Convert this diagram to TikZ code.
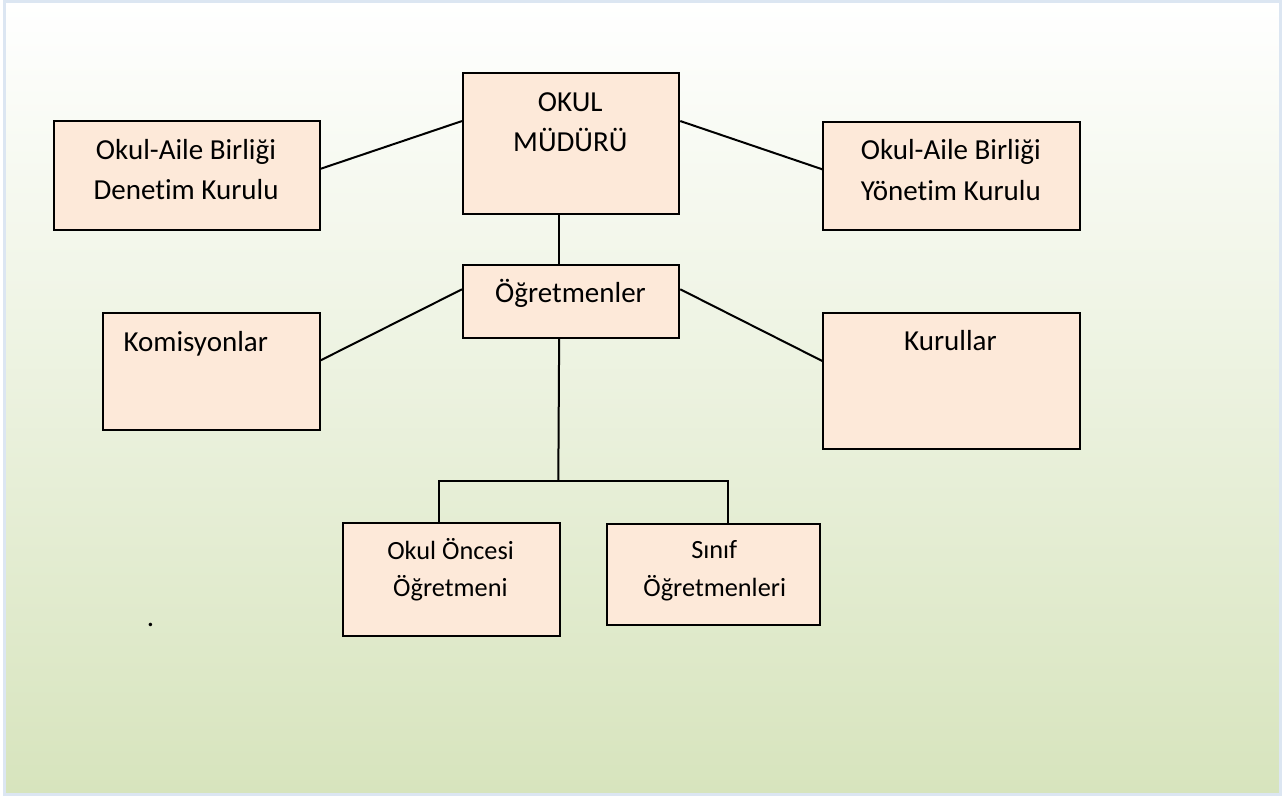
\documentclass[tikz,border=0pt]{standalone}
\usepackage{fontspec}
\setmainfont[Ligatures={NoCommon}]{Carlito}
\usetikzlibrary{calc}

\newcommand{\orgfont}{\fontsize{29}{40}\selectfont}
\newcommand{\orgsmallfont}{\fontsize{26.3}{37}\selectfont}

\tikzset{
	orgbox/.style={draw=black, line width=2pt, fill=boxfill, inner sep=0pt, anchor=north west},
	orgtext/.style={font=\orgfont, inner sep=0pt, anchor=base},
	orgsmall/.style={font=\orgsmallfont, inner sep=0pt, anchor=base},
	link/.style={draw=black, line width=2pt}
}

\begin{document}
\begin{tikzpicture}[x=1pt, y=-1pt]
			% Define colors
			\definecolor{boxfill}{RGB}{253,233,217}
			\definecolor{bggreen}{RGB}{215,228,189}
			\definecolor{framecol}{RGB}{220,230,242}
			
			% Background
			\useasboundingbox (0,0) rectangle (1284,796);
			\fill[white] (0,0) rectangle (1284,796);
			\shade[top color=white, bottom color=bggreen] (4.5,1.5) rectangle (1280.5,794.5);
			\draw[framecol, line width=3pt] (4.5,1.5) rectangle (1280.5,794.5);
			
			% Draw boxes
			\node[orgbox, minimum width=216.3pt, minimum height=140.7pt] (mudur) at (462,72) {};
			\node[orgbox, minimum width=216.3pt, minimum height=72.4pt] (ogretmen) at (462,264.3) {};
			\node[orgbox, minimum width=265.4pt, minimum height=108.7pt] (denetim) at (53.3,120) {};
			\node[orgbox, minimum width=257pt, minimum height=108pt] (yonetim) at (822.3,120.7) {};
			\node[orgbox, minimum width=217pt, minimum height=117pt] (komisyon) at (101.7,312.3) {};
			\node[orgbox, minimum width=257pt, minimum height=136pt] (kurullar) at (822.3,312.3) {};
			\node[orgbox, minimum width=217pt, minimum height=112.4pt] (oncesi) at (342,522.3) {};
			\node[orgbox, minimum width=213.3pt, minimum height=101.6pt] (sinif) at (606,522.7) {};
			
			% Add labels
			\node[orgtext] (mudurA) at (570.3,111) {OKUL};
			\node[orgtext] (mudurB) at (570.3,151.7) {MÜDÜRÜ};
			\node[orgtext] (ogretmenA) at (570.5,302.3) {Öğretmenler};
			\node[orgtext] (denetimA) at (186,159) {Okul-Aile Birliği};
			\node[orgtext] (denetimB) at (186,199.3) {Denetim Kurulu};
			\node[orgtext] (yonetimA) at (950.8,159.3) {Okul-Aile Birliği};
			\node[orgtext] (yonetimB) at (950.8,200) {Yönetim Kurulu};
			\node[orgtext, anchor=base west] (komisyonA) at (123.3,351.7) {Komisyonlar};
			\node[orgtext] (kurullarA) at (950.4,350.7) {Kurullar};
			\node[orgsmall] (oncesiA) at (450.6,559) {Okul Öncesi};
			\node[orgsmall] (oncesiB) at (450.4,596.7) {Öğretmeni};
			\node[orgsmall] (sinifA) at (714.3,558.3) {Sınıf};
			\node[orgsmall] (sinifB) at (714.7,596.7) {Öğretmenleri};
			\node[orgtext] (dot) at (150.5,626) {.};
			
			% Draw connectors
			\draw[link] ([yshift=6.6pt]denetim.east) -- ([yshift=22.3pt]mudur.west);
			\draw[link] ([yshift=22.3pt]mudur.east) -- ([yshift=6.4pt]yonetim.east -| yonetim.west);
			\draw[link] ([xshift=-12pt]mudur.south) -- ([xshift=-12pt]ogretmen.north);
			\draw[link] ([yshift=12.2pt]ogretmen.west) -- ([yshift=11.5pt]komisyon.east);
			\draw[link] ([yshift=12.2pt]ogretmen.east) -- ([yshift=20.3pt]kurullar.west);
			\coordinate (split) at (558.3,480.7);
			\draw[link] ([xshift=-12pt]ogretmen.south) -- (split);
			\draw[link] ([xshift=-12.2pt]oncesi.north) |- (split) -| ([xshift=14pt]sinif.north);
\end{tikzpicture}
\end{document}
